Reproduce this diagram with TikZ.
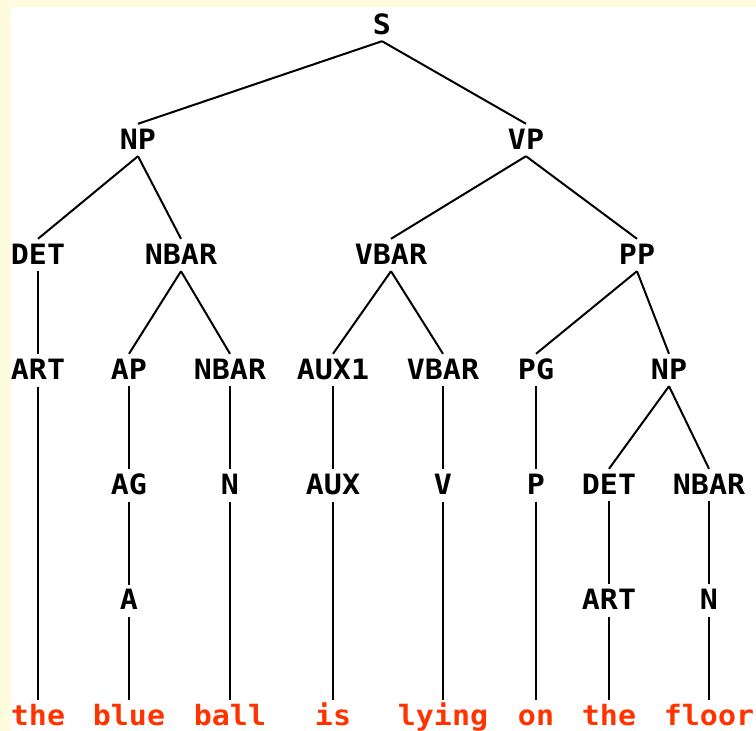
\documentclass[tikz,border=0pt]{standalone}
\usepackage{fontspec}
\newfontfamily\treefont[FakeStretch=1.07]{DejaVu Sans Mono}
\usetikzlibrary{positioning}
\definecolor{leafred}{RGB}{255,51,0}
\definecolor{pagecream}{RGB}{255,252,222}
\tikzset{
  cat/.style={font=\treefont\bfseries\fontsize{28}{28}\selectfont,text height=20pt,text depth=2pt,inner xsep=2pt,inner ysep=5pt,anchor=base},
  word/.style={font=\treefont\bfseries\fontsize{28}{28}\selectfont,text=leafred,text height=21pt,text depth=0pt,inner xsep=2pt,inner ysep=4pt,anchor=base},
  branch/.style={line width=2pt},
}
\begin{document}
\begin{tikzpicture}[x=1pt,y=-1pt,node distance=83pt]
  \useasboundingbox (0,0) rectangle (756,731);
  \fill[pagecream] (0,0) rectangle (756,731);
  \fill[white] (11,7) rectangle (756,731);
  % categories, row by row
  \node[cat] (s) at (382,34) {S};
  \node[cat] (np) at (138,149) {NP}; \node[cat] (vp) at (526,149) {VP};
  \node[cat] (det) at (38,264) {DET}; \node[cat] (nbar) at (181,264) {NBAR};
  \node[cat] (vbar) at (391,264) {VBAR}; \node[cat] (pp) at (637,264) {PP};
  \node[cat] (art) [below=of det] {ART};
  \node[cat] (ap) at (129,379) {AP}; \node[cat] (nbarB) at (230,379) {NBAR};
  \node[cat] (aux1) at (333,379) {AUX1}; \node[cat] (vbarB) at (443,379) {VBAR};
  \node[cat] (pg) at (536,379) {PG}; \node[cat] (npB) at (669,379) {NP};
  \node[cat] (ag) [below=of ap] {AG}; \node[cat] (n) [below=of nbarB] {N};
  \node[cat] (aux) [below=of aux1] {AUX}; \node[cat] (v) [below=of vbarB] {V};
  \node[cat] (p) [below=of pg] {P};
  \node[cat] (detB) at (609,494) {DET}; \node[cat] (nbarC) at (709,494) {NBAR};
  \node[cat] (a) [below=of ag] {A};
  \node[cat] (artB) [below=of detB] {ART}; \node[cat] (nB) [below=of nbarC] {N};
  % the sentence
  \node[word] (w1) at (38,725) {the}; \node[word] (w2) at (129,725) {blue};
  \node[word] (w3) at (230,725) {ball}; \node[word] (w4) at (333,725) {is};
  \node[word] (w5) at (443,725) {lying}; \node[word] (w6) at (536,725) {on};
  \node[word] (w7) at (609,725) {the}; \node[word] (w8) at (709,725) {floor};
  % branches
  \foreach \u/\v in {s/np,s/vp,np/det,np/nbar,vp/vbar,vp/pp,det/art,nbar/ap,nbar/nbarB,
      vbar/aux1,vbar/vbarB,pp/pg,pp/npB,ap/ag,ag/a,nbarB/n,aux1/aux,vbarB/v,pg/p,
      npB/detB,npB/nbarC,detB/artB,nbarC/nB,
      art/w1,a/w2,n/w3,aux/w4,v/w5,p/w6,artB/w7,nB/w8}
    \draw[branch] (\u.south) -- (\v.north);
\end{tikzpicture}
\end{document}
